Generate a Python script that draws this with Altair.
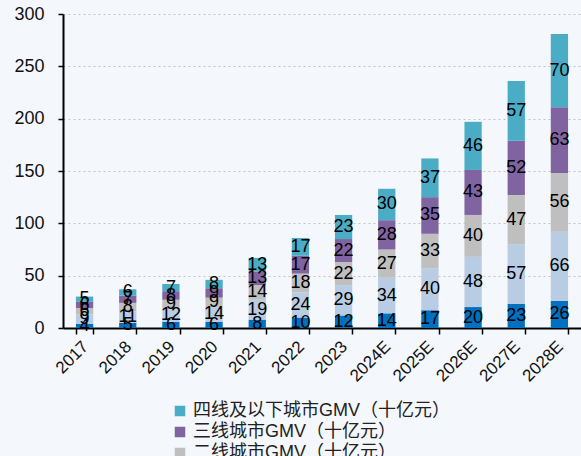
import altair as alt
import pandas as pd

years = ["2017", "2018", "2019", "2020", "2021", "2022", "2023",
         "2024E", "2025E", "2026E", "2027E", "2028E"]
series = [
    "一线城市GMV（十亿元）",
    "新一线城市GMV（十亿元）",
    "二线城市GMV（十亿元）",
    "三线城市GMV（十亿元）",
    "四线及以下城市GMV（十亿元）",
]
colors = ["#0070C0", "#B8CCE4", "#BFBFBF", "#8064A2", "#4BACC6"]

tier1 = [4, 5, 6, 6, 8, 10, 12, 14, 17, 20, 23, 26]
new_tier1 = [9, 11, 12, 14, 19, 24, 29, 34, 40, 48, 57, 66]
tier2 = [6, 8, 9, 9, 14, 18, 22, 27, 33, 40, 47, 56]
tier3 = [6, 7, 8, 9, 13, 17, 22, 28, 35, 43, 52, 63]
tier4 = [5, 6, 7, 8, 13, 17, 23, 30, 37, 46, 57, 70]

rows = []
for k, vals in enumerate([tier1, new_tier1, tier2, tier3, tier4]):
    for y, v in zip(years, vals):
        rows.append({"year": y, "series": series[k], "idx": k, "value": v})
df = pd.DataFrame(rows)

FONT = "Liberation Sans, Arial, Noto Sans CJK SC"

base = alt.Chart(df).transform_stack(
    stack="value", groupby=["year"], as_=["v0", "v1"],
    sort=[alt.SortField("idx", order="ascending")]
).transform_calculate(mid="(datum.v0 + datum.v1) / 2")

x = alt.X("year:N", sort=years, title=None,
          scale=alt.Scale(paddingInner=0.6, paddingOuter=0.3),
          axis=alt.Axis(labelAngle=-45, labelAlign="right", labelBaseline="top",
                        labelFontSize=17, labelColor="#111", labelFont=FONT,
                        labelPadding=4, labelOffset=-5,
                        tickBand="extent", tickSize=6,
                        tickColor="#000", domainColor="#000", domainWidth=2,
                        tickWidth=1.5, grid=False))

# legend lists the outer tiers first
legend_order = series[::-1]
legend_colors = colors[::-1]

bars = base.mark_bar().encode(
    x=x,
    y=alt.Y("v0:Q", title=None,
            scale=alt.Scale(domain=[0, 300], nice=False),
            axis=alt.Axis(values=[0, 50, 100, 150, 200, 250, 300],
                          labelFontSize=18, labelColor="#111", labelFont=FONT,
                          labelPadding=14, tickSize=5, tickColor="#000",
                          domainColor="#000", domainWidth=2, tickWidth=1.5,
                          grid=True, gridDash=[2, 3], gridColor="#C4C4C4",
                          gridWidth=1.2)),
    y2="v1:Q",
    color=alt.Color("series:N",
                    scale=alt.Scale(domain=legend_order, range=legend_colors),
                    legend=alt.Legend(
                        title=None, orient="none", legendX=108, legendY=388,
                        direction="vertical", symbolType="square",
                        symbolSize=110, symbolStrokeWidth=0, symbolOpacity=1,
                        labelFontSize=18, labelColor="#222", labelFont=FONT,
                        labelLimit=0, rowPadding=3, padding=0, labelOffset=4)),
)

labels = base.mark_text(fontSize=18, font=FONT, color="#000", baseline="middle").encode(
    x=alt.X("year:N", sort=years),
    y=alt.Y("mid:Q"),
    text=alt.Text("value:Q"),
)

chart = (bars + labels).properties(
    width=518, height=314,
    autosize=alt.AutoSizeParams(type="none"),
    padding={"left": 63, "top": 14, "right": 0, "bottom": 128},
    background="#F4F7FB",
).configure_view(stroke=None)

chart.save("out.html", embed_options={"renderer": "svg", "actions": False})
